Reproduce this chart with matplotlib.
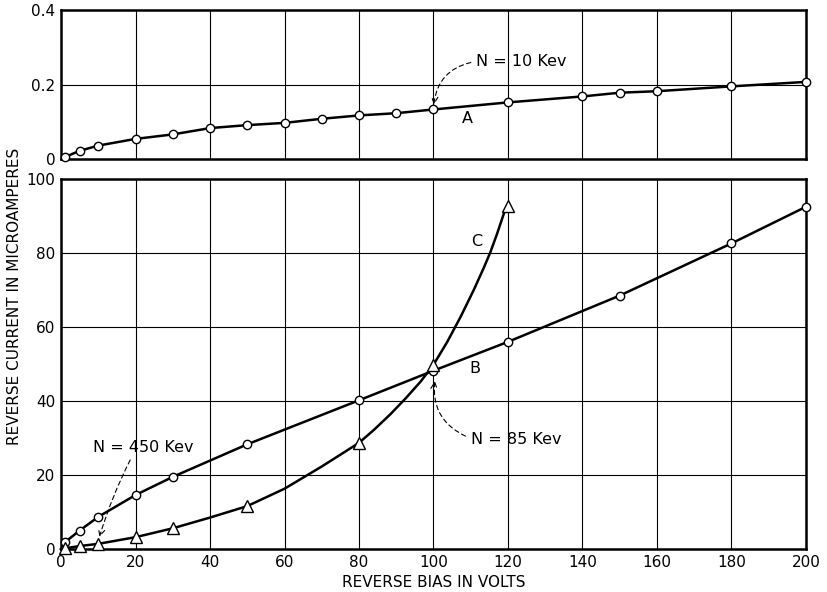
import matplotlib
matplotlib.use('Agg')
import matplotlib.pyplot as plt

# curve A (top panel), microamperes
a_x = [1, 5, 10, 20, 30, 40, 50, 60, 70, 80, 90, 100, 120, 140, 150, 160, 180, 200]
a_y = [0.005, 0.022, 0.036, 0.054, 0.066, 0.083, 0.091, 0.097, 0.108, 0.117, 0.123,
       0.133, 0.152, 0.168, 0.178, 0.182, 0.195, 0.207]

# curve B (circles)
b_x = [0, 1, 5, 10, 20, 30, 50, 80, 100, 120, 150, 180, 200]
b_y = [0, 1.8, 5.0, 8.7, 14.6, 19.5, 28.3, 40.2, 48.2, 56.0, 68.5, 82.6, 92.5]

# curve C (triangles) measured points
c_x = [1, 5, 10, 20, 30, 50, 80, 100, 120]
c_y = [0.2, 0.8, 1.4, 3.2, 5.6, 11.6, 28.7, 49.8, 92.6]
# curve C line as traced on the picture
c_line_x = [0, 1, 5, 10, 20, 30, 40, 50, 60, 70, 80, 84, 88.4, 92.5, 96.5, 100, 103.7, 107.3,
            110.8, 113.5, 115.3, 117.1, 118.9, 120]
c_line_y = [0, 0.2, 0.8, 1.4, 3.2, 5.6, 8.5, 11.6, 16.3, 22.3, 28.7, 32.2, 36.4, 40.7, 45.2, 49.8,
            56.0, 62.8, 70.0, 76.0, 80.3, 85.3, 90.7, 92.6]

x_ticks = list(range(0, 201, 20))
top_ticks = [0, 0.2, 0.4]
bot_ticks = list(range(0, 101, 20))

fig = plt.figure(figsize=(8.28, 5.92), dpi=100)
ax1 = fig.add_axes([0.0737, 0.7314, 0.8997, 0.2517])
ax2 = fig.add_axes([0.0737, 0.0726, 0.8997, 0.625])

for ax in (ax1, ax2):
    ax.set_xlim(0, 200)
    ax.set_xticks(x_ticks)
    ax.grid(True, color='black', linewidth=0.8)
    ax.set_axisbelow(True)
    ax.tick_params(length=0, labelsize=11, pad=4)
    for s in ax.spines.values():
        s.set_linewidth(1.8)

ax1.set_ylim(0, 0.4)
ax1.set_yticks(top_ticks)
ax1.set_yticklabels(['0', '0.2', '0.4'])
ax1.set_xticklabels([])

ax2.set_ylim(0, 100)
ax2.set_yticks(bot_ticks)
ax2.set_xticklabels([str(t) for t in x_ticks])

mk = dict(markerfacecolor='white', markeredgecolor='black', markeredgewidth=1.0, clip_on=False)
ax1.plot(a_x, a_y, color='black', lw=1.8, marker='o', markersize=6, zorder=3, **mk)

ax2.plot(b_x, b_y, color='black', lw=1.8, zorder=3, clip_on=False)
ax2.plot(b_x[1:], b_y[1:], ls='none', marker='o', markersize=6, zorder=4, **mk)
ax2.plot(c_line_x, c_line_y, color='black', lw=1.8, zorder=3, clip_on=False)
ax2.plot(c_x, c_y, ls='none', marker='^', markersize=8, zorder=4, **mk)

txt = dict(fontsize=11.5, color='black')
arr = dict(arrowstyle='->', linestyle=(0, (4, 3)), color='black', lw=0.8, shrinkA=2, shrinkB=3)
ax1.annotate('N = 10 Kev', xy=(100, 0.135), xytext=(111.5, 0.262), ha='left', va='center',
             arrowprops=dict(connectionstyle='arc3,rad=0.4', relpos=(0, 0.5), **arr), **txt)
ax1.text(109, 0.11, 'A', ha='center', va='center', **txt)

ax2.text(111.5, 83, 'C', ha='center', va='center', **txt)
ax2.text(111, 48.9, 'B', ha='center', va='center', **txt)
ax2.annotate('N = 85 Kev', xy=(100.5, 46.5), xytext=(110, 29.5), ha='left', va='center',
             arrowprops=dict(connectionstyle='arc3,rad=-0.4', relpos=(0, 0.6), **arr), **txt)
ax2.annotate('N = 450 Kev', xy=(10, 2.2), xytext=(8.5, 27.5), ha='left', va='center',
             arrowprops=dict(connectionstyle='arc3,rad=0.05', relpos=(0.4, 0), **arr), **txt)

fig.text(0.018, 0.5, 'REVERSE CURRENT IN MICROAMPERES', rotation=90, ha='center', va='center',
         fontsize=11, color='black')
ax2.set_xlabel('REVERSE BIAS IN VOLTS', fontsize=11, labelpad=4)

fig.savefig('out.png', dpi=100)
